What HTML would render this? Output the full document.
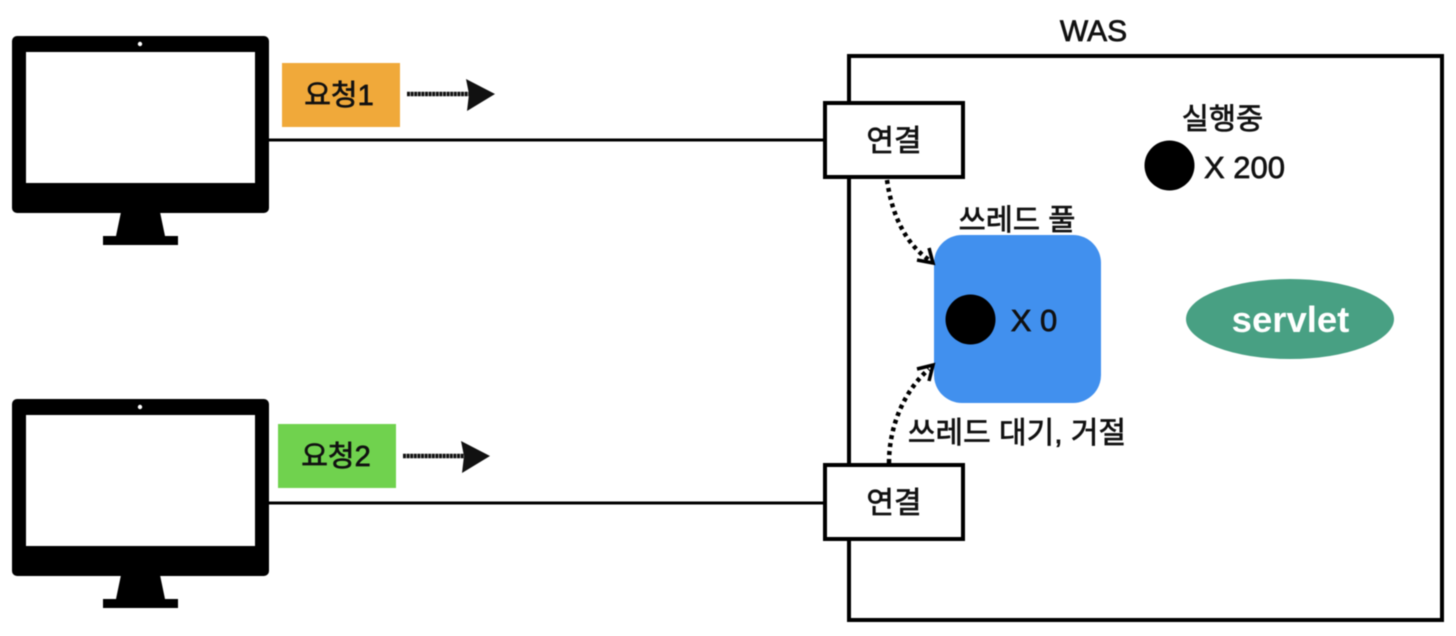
<!DOCTYPE html>
<html lang="ko">
<head>
<meta charset="utf-8">
<style>
html,body{margin:0;padding:0;background:#fff}
svg{display:block;filter:blur(.5px)}
text{font-family:"Liberation Sans","Noto Sans CJK KR",sans-serif;fill:#111;stroke:#111;stroke-width:.7px}
</style>
</head>
<body>
<svg width="1456" height="636" viewBox="0 0 1456 636" xmlns="http://www.w3.org/2000/svg">
<rect width="1456" height="636" fill="#fff"/>

<!-- WAS -->
<rect x="849" y="56" width="593" height="564" fill="#fff" stroke="#000" stroke-width="4"/>
<text x="1093.500" y="41" font-size="30" text-anchor="middle">WAS</text>

<!-- Monitor 1 -->
<rect x="12" y="36" width="257" height="177" rx="5" fill="#000"/>
<rect x="26" y="52" width="229" height="131" fill="#fff"/>
<circle cx="140" cy="44" r="2.2" fill="#fff"/>
<path d="M121 212H160L165 236H178V245H103V236H116Z" fill="#000"/>

<!-- Monitor 2 -->
<rect x="12" y="399" width="257" height="177" rx="5" fill="#000"/>
<rect x="26" y="415" width="229" height="131" fill="#fff"/>
<circle cx="140" cy="407" r="2.2" fill="#fff"/>
<path d="M121 575H160L165 599H178V608H103V599H116Z" fill="#000"/>

<!-- Lines -->
<line x1="269" y1="140" x2="825" y2="140" stroke="#000" stroke-width="3"/>
<line x1="269" y1="503" x2="825" y2="503" stroke="#000" stroke-width="3"/>

<!-- Requests -->
<rect x="282" y="63" width="118" height="64" fill="#f0a93a"/>
<text x="339" y="105" font-size="29" text-anchor="middle">요청1</text>
<line x1="407" y1="94" x2="470" y2="94" stroke="#111" stroke-width="4.500" stroke-dasharray="3 .6"/>
<path d="M466 79L495 94L467 111L469 94Z" fill="#111"/>

<rect x="278" y="424" width="118" height="64" fill="#70d24e"/>
<text x="336" y="466" font-size="29" text-anchor="middle">요청2</text>
<line x1="403" y1="456" x2="465" y2="456" stroke="#111" stroke-width="4.500" stroke-dasharray="3 .6"/>
<path d="M461 441L490 456L462 473L464 456Z" fill="#111"/>

<!-- Connection boxes -->
<rect x="825" y="103" width="138" height="74" fill="#fff" stroke="#000" stroke-width="4"/>
<text x="894" y="151" font-size="30" text-anchor="middle">연결</text>
<rect x="825" y="465" width="138" height="74" fill="#fff" stroke="#000" stroke-width="4"/>
<text x="894" y="513" font-size="30" text-anchor="middle">연결</text>

<!-- Thread pool -->
<text x="1017" y="230" font-size="29.500" text-anchor="middle">쓰레드 풀</text>
<rect x="934" y="235" width="167" height="168" rx="28" fill="#4190ee"/>
<circle cx="970.500" cy="319.500" r="25" fill="#000"/>
<text x="1034" y="331" font-size="31" text-anchor="middle">X 0</text>
<text x="1017" y="443" font-size="30" text-anchor="middle">쓰레드 대기, 거절</text>

<!-- Dotted connectors -->
<path d="M887 180C892 215 905 243 929 260" fill="none" stroke="#000" stroke-width="4.500" stroke-dasharray="4 4"/>
<path d="M917 260L933 263L929 248" fill="none" stroke="#000" stroke-width="3.500"/>
<path d="M889 463C889 425 905 390 929 369" fill="none" stroke="#000" stroke-width="4.500" stroke-dasharray="4 4"/>
<path d="M917 369L933 365L929 381" fill="none" stroke="#000" stroke-width="3.500"/>

<!-- Running -->
<text x="1222.500" y="129" font-size="29.500" text-anchor="middle">실행중</text>
<circle cx="1169.500" cy="165.500" r="25" fill="#000"/>
<text x="1244.500" y="178" font-size="31" text-anchor="middle">X 200</text>

<!-- Servlet -->
<ellipse cx="1290" cy="319" rx="104" ry="40" fill="#48a083"/>
<text x="1290.500" y="332" font-size="36.500" font-weight="bold" text-anchor="middle" style="fill:#fff;stroke:none">servlet</text>
</svg>
</body>
</html>
